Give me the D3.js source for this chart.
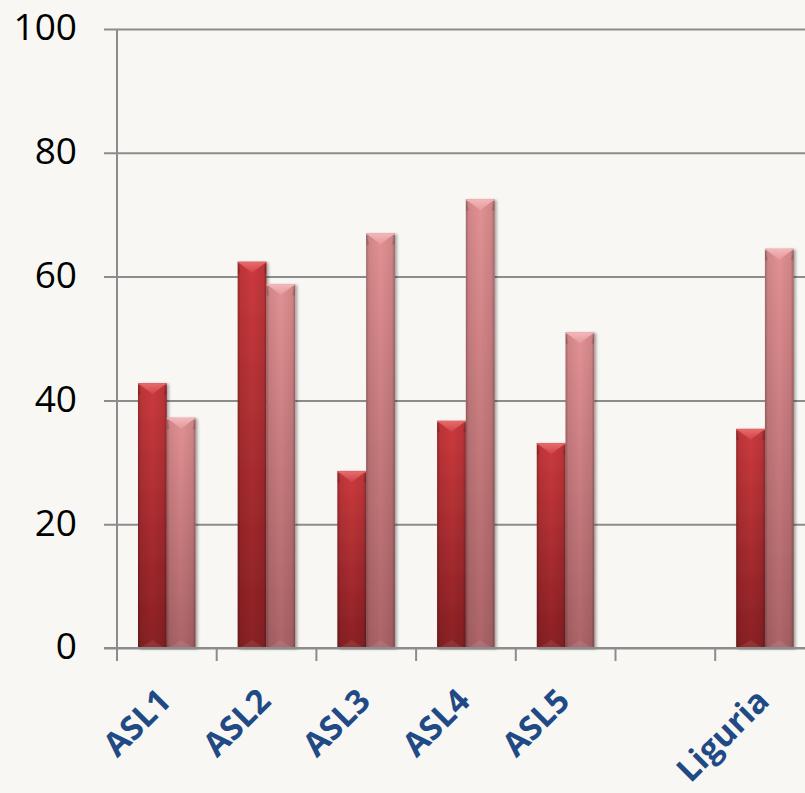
<!DOCTYPE html>
<html>
<head>
<meta charset="utf-8">
<script src="https://cdn.jsdelivr.net/npm/d3@7/dist/d3.min.js"></script>
<style>
  html, body { margin: 0; padding: 0; background: #f8f7f3; overflow: hidden; }
  svg { display: block; }
</style>
</head>
<body>
<svg id="chart" width="805" height="793"></svg>
<script>
// Categories along the x axis (one slot is left empty on purpose)
const categories = ["ASL1", "ASL2", "ASL3", "ASL4", "ASL5", "", "Liguria"];
// Two series per category
const seriesNames = ["s1", "s2"];
const series1 = [42.8, 62.4, 28.6, 36.7, 33.1, null, 35.4];
const series2 = [37.2, 58.8, 67.0, 72.5, 51.0, null, 64.5];
const yTicks = [0, 20, 40, 60, 80, 100];

const svg = d3.select("#chart");
const W = 805;
const plotLeft = 117, plotTop = 29, plotBottom = 648;
const bandW = 99.7;

const x0 = d3.scaleBand().domain(categories).range([plotLeft, plotLeft + bandW * categories.length]).padding(0);
const x1 = d3.scaleBand().domain(seriesNames).range([21, 78.5]).padding(0);
const y = d3.scaleLinear().domain([0, 100]).range([plotBottom, plotTop]);

const defs = svg.append("defs");
const palettes = {
  s1: { top: "#cc3a3d", bot: "#8a2024", hi: "#e86a6b" },
  s2: { top: "#e29193", bot: "#ac6468", hi: "#f4b8b9" }
};
seriesNames.forEach(s => {
  const p = palettes[s];
  const g = defs.append("linearGradient").attr("id", "v-" + s).attr("x1", 0).attr("y1", 0).attr("x2", 0).attr("y2", 1);
  g.append("stop").attr("offset", "0%").attr("stop-color", p.top);
  g.append("stop").attr("offset", "100%").attr("stop-color", p.bot);
  const hg = defs.append("linearGradient").attr("id", "hl-" + s).attr("x1", 0).attr("y1", 0).attr("x2", 0).attr("y2", 1);
  hg.append("stop").attr("offset", "0%").attr("stop-color", p.hi).attr("stop-opacity", 0.95);
  hg.append("stop").attr("offset", "100%").attr("stop-color", p.hi).attr("stop-opacity", 0.25);
});
// darker sides of each bar
const eg = defs.append("linearGradient").attr("id", "edges").attr("x1", 0).attr("y1", 0).attr("x2", 1).attr("y2", 0);
[[0, 0.28], [0.1, 0.08], [0.5, 0], [0.9, 0.08], [1, 0.3]].forEach(([o, a]) =>
  eg.append("stop").attr("offset", o * 100 + "%").attr("stop-color", "#000").attr("stop-opacity", a));
const f = defs.append("filter").attr("id", "shadow").attr("x", "-30%").attr("y", "-10%").attr("width", "160%").attr("height", "120%");
f.append("feDropShadow").attr("dx", 2).attr("dy", 1).attr("stdDeviation", 1.6).attr("flood-color", "#000").attr("flood-opacity", 0.35);

// Gridlines and y axis
const yAxis = d3.axisLeft(y).tickValues(yTicks).tickSize(-(W - plotLeft)).tickPadding(0).tickFormat(d3.format("d"));
const ga = svg.append("g").attr("transform", `translate(${plotLeft},0)`).call(yAxis);
ga.select(".domain").remove();
ga.selectAll(".tick line").attr("x1", -13).attr("stroke", "#8c8c8c").attr("stroke-width", 2);
ga.selectAll(".tick text")
  .attr("x", -40).attr("dy", "0.32em").attr("y", -1)
  .attr("fill", "#000").attr("font-family", "'Open Sans', sans-serif").attr("font-size", 37)
  .attr("text-anchor", "end");
svg.append("line").attr("x1", plotLeft).attr("x2", plotLeft).attr("y1", plotTop).attr("y2", plotBottom + 13)
  .attr("stroke", "#8c8c8c").attr("stroke-width", 2);

// Category tick marks
const bounds = categories.map(c => x0(c));
svg.append("g").selectAll("line").data(bounds).join("line")
  .attr("x1", d => d).attr("x2", d => d).attr("y1", plotBottom).attr("y2", plotBottom + 13)
  .attr("stroke", "#8c8c8c").attr("stroke-width", 2);

// Bars
const data = [];
categories.forEach((c, i) => {
  [series1, series2].forEach((arr, k) => {
    if (arr[i] != null) data.push({ cat: c, s: seriesNames[k], v: arr[i] });
  });
});
const bars = svg.append("g").selectAll("g.bar").data(data).join("g").attr("class", "bar");
bars.each(function (d) {
  const g = d3.select(this);
  const bx = x0(d.cat) + x1(d.s), bw = x1.bandwidth();
  const by = y(d.v), bh = y(0) - y(d.v);
  g.append("rect").attr("x", bx).attr("y", by).attr("width", bw).attr("height", bh)
    .attr("fill", `url(#v-${d.s})`).attr("filter", "url(#shadow)");
  g.append("rect").attr("x", bx).attr("y", by).attr("width", bw).attr("height", bh).attr("fill", "url(#edges)");
  // top bevel
  g.append("rect").attr("x", bx).attr("y", by).attr("width", bw).attr("height", 1.5)
    .attr("fill", palettes[d.s].hi).attr("opacity", 0.9);
  g.append("path")
    .attr("d", `M${bx + 1},${by + 1}L${bx + bw - 1},${by + 1}L${bx + bw / 2},${by + 11}Z`)
    .attr("fill", `url(#hl-${d.s})`);
  g.append("path")
    .attr("d", `M${bx},${by}L${bx + 3},${by + 11}L${bx},${by + 12}Z`)
    .attr("fill", "#000").attr("opacity", 0.12);
  g.append("path")
    .attr("d", `M${bx + bw},${by}L${bx + bw - 3},${by + 11}L${bx + bw},${by + 12}Z`)
    .attr("fill", "#000").attr("opacity", 0.12);
  // bottom bevel
  g.append("path")
    .attr("d", `M${bx + 2},${by + bh}L${bx + bw - 2},${by + bh}L${bx + bw / 2},${by + bh - 8}Z`)
    .attr("fill", "#fff").attr("opacity", 0.08);
});

// Bottom axis line over bar bases
svg.append("line").attr("x1", plotLeft - 13).attr("x2", W).attr("y1", plotBottom).attr("y2", plotBottom)
  .attr("stroke", "#8c8c8c").attr("stroke-width", 2);

// Rotated category labels
svg.append("g").selectAll("text").data(categories.filter(c => c !== "")).join("text")
  .attr("transform", c => `translate(${x0(c) + bandW / 2 + 6},${703}) rotate(-45)`)
  .attr("text-anchor", "end")
  .attr("font-family", "'Open Sans', sans-serif").attr("font-weight", 700).attr("font-size", 33)
  .attr("fill", "#1f4a86")
  .text(c => c);
</script>
</body>
</html>
